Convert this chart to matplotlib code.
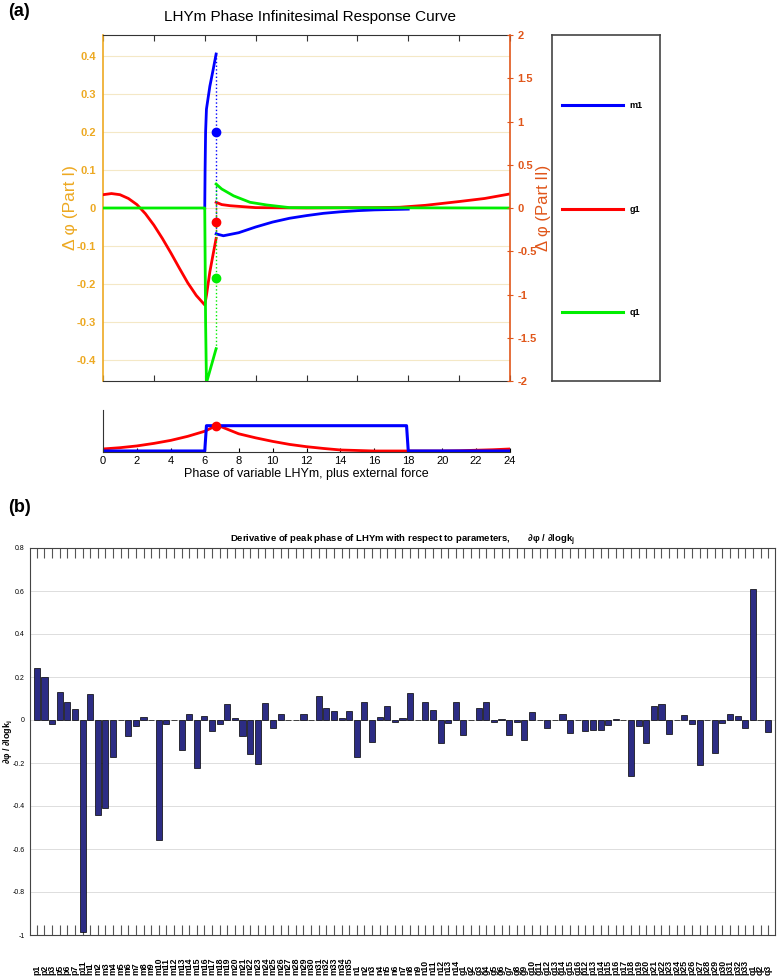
import matplotlib
matplotlib.use("Agg")
import matplotlib.pyplot as plt
import matplotlib.transforms as mtransforms
import numpy as np

plt.rcParams['font.family'] = ['Liberation Sans', 'DejaVu Sans']

W, H = 779, 977
fig = plt.figure(figsize=(W / 100, H / 100), dpi=100)

def rect(l, t, r, b):
    return [l / W, 1 - b / H, (r - l) / W, (b - t) / H]

LEFT_C = '#EDA922'
RIGHT_C = '#E0561A'
BLUE = '#0000FF'
RED = '#FF0000'
GREEN = '#00EE00'

# ---------------- data: PRC (panel a) ----------------
jump_t = 6.67
blue_pre_t = [6.0, 6.02, 6.05, 6.1, 6.3, 6.5, 6.67]
blue_pre_v = [0.0, 0.1, 0.2, 0.26, 0.32, 0.365, 0.405]
blue_post_t = [6.67, 7.1, 8.0, 9.0, 10.0, 11.0, 12.0, 13.0, 14.0, 15.0, 16.0, 17.0, 18.0]
blue_post_v = [-0.068, -0.073, -0.065, -0.05, -0.037, -0.027, -0.02, -0.014, -0.01, -0.007, -0.005, -0.004, -0.003]

red_pre_t = [0, 0.5, 1.0, 1.5, 2.0, 2.5, 3.0, 3.5, 4.0, 4.5, 5.0, 5.5, 6.0, 6.1, 6.3, 6.5, 6.67]
red_pre_v = [0.035, 0.038, 0.035, 0.025, 0.009, -0.015, -0.045, -0.08, -0.118, -0.158, -0.197, -0.23, -0.255,
             -0.23, -0.168, -0.12, -0.08]
red_post_t = [6.67, 7.0, 7.5, 8.1, 9.0, 12.0, 16.0, 17.5, 19.0, 21.0, 22.5, 24.0]
red_post_v = [0.015, 0.009, 0.006, 0.004, 0.001, 0.0, 0.001, 0.002, 0.007, 0.017, 0.025, 0.037]

green_pre_t = [0, 6.0, 6.05, 6.1, 6.67]
green_pre_v = [0.0, 0.0, -0.3, -0.46, -0.37]
green_post_t = [6.67, 7.0, 7.7, 8.67, 9.65, 11.0, 24.0]
green_post_v = [0.063, 0.05, 0.032, 0.015, 0.008, 0.001, 0.0]

dot_vals = {'blue': 0.2, 'red': -0.037, 'green': -0.183}

# ---------------- data: forcing (small panel) ----------------
force_t = [0, 6.0, 6.1, 17.9, 18.0, 24]
force_v = [0, 0, 1, 1, 0, 0]
lhy_t = [0, 1, 2, 3, 4, 5, 6, 6.67, 7, 8, 9, 10, 11, 12, 13, 14, 15, 16, 18, 20, 21, 22, 23, 24]
lhy_v = [0.08, 0.13, 0.2, 0.3, 0.42, 0.58, 0.78, 1.0, 0.95, 0.68, 0.52, 0.38, 0.26, 0.17, 0.1, 0.04, 0.02,
         0.0, 0.0, 0.0, 0.01, 0.03, 0.05, 0.08]
lhy_peak = (6.67, 1.0)

# ---------------- data: sensitivities (panel b) ----------------
param_labels = ['p1', 'p2', 'p3', 'p5', 'p6', 'p7', 'p11',
                'm1', 'm2', 'm3', 'm4', 'm5', 'm6', 'm7', 'm8', 'm9', 'm10', 'm11', 'm12', 'm13', 'm14',
                'm15', 'm16', 'm17', 'm18', 'm19', 'm20', 'm21', 'm22', 'm23', 'm24', 'm25', 'm26', 'm27',
                'm28', 'm29', 'm30', 'm31', 'm32', 'm33', 'm34', 'm35',
                'n1', 'n2', 'n3', 'n4', 'n5', 'n6', 'n7', 'n8', 'n9', 'n10', 'n11', 'n12', 'n13', 'n14',
                'g1', 'g2', 'g3', 'g4', 'g5', 'g6', 'g7', 'g8', 'g9', 'g10', 'g11', 'g12', 'g13', 'g14',
                'g15', 'g16',
                'p12', 'p13', 'p14', 'p15', 'p16', 'p17', 'p18', 'p19', 'p20', 'p21', 'p22', 'p23', 'p24',
                'p25', 'p26', 'p27', 'p28', 'p29', 'p30', 'p31', 'p32', 'p33',
                'q1', 'q2', 'q3']
sens = [0.24, 0.20, -0.02, 0.13, 0.085, 0.05, -0.985, 0.12, -0.44, -0.41,
        -0.17, 0.0, -0.075, -0.03, 0.015, 0.0, -0.56, -0.02, 0.0, -0.14,
        0.03, -0.225, 0.02, -0.05, -0.02, 0.075, 0.01, -0.075, -0.16, -0.205,
        0.08, -0.035, 0.03, 0.0, 0.0, 0.03, 0.0, 0.11, 0.055, 0.04,
        0.01, 0.04, -0.17, 0.085, -0.1, 0.015, 0.065, -0.01, 0.01, 0.125,
        0.0, 0.085, 0.045, -0.105, -0.015, 0.085, -0.07, 0.0, 0.055, 0.085,
        -0.01, 0.005, -0.07, -0.01, -0.095, 0.035, 0.0, -0.035, 0.0, 0.03,
        -0.06, 0.0, -0.05, -0.045, -0.045, -0.025, 0.005, 0.0, -0.26, -0.03,
        -0.105, 0.065, 0.075, -0.065, 0.0, 0.025, -0.02, -0.21, 0.0, -0.155,
        -0.015, 0.03, 0.02, -0.035, 0.61, 0.0, -0.055]

# ================= panel (a) main axes =================
ax = fig.add_axes(rect(103, 35, 510, 381))
ax.set_xlim(0, 24)
ax.set_ylim(-0.455, 0.455)
ax.set_yticks([-0.4, -0.3, -0.2, -0.1, 0, 0.1, 0.2, 0.3, 0.4])
ax.set_yticklabels(['-0.4', '-0.3', '-0.2', '-0.1', '0', '0.1', '0.2', '0.3', '0.4'])
ax.set_xticks(np.arange(0, 25, 3))
ax.set_xticklabels([])
ax.tick_params(axis='x', direction='in', top=True, length=4, color='#333333')
ax.tick_params(axis='y', colors=LEFT_C, labelsize=8, length=0, pad=5)
for lab in ax.get_yticklabels():
    lab.set_fontweight('bold')
ax.grid(axis='y', color='#f4e8c6', linewidth=0.8)
ax.spines['left'].set_color(LEFT_C)
ax.spines['left'].set_linewidth(1.2)
ax.spines['right'].set_visible(False)
ax.spines['top'].set_color('#333333')
ax.spines['bottom'].set_color('#333333')
ax.set_ylabel('Δ φ (Part I)', color=LEFT_C, fontsize=12.5)
ax.yaxis.set_label_coords(-0.061, 0.5)

lw = 2.0
ax.plot(red_pre_t, red_pre_v, color=RED, lw=lw, zorder=3)
ax.plot(red_post_t, red_post_v, color=RED, lw=lw, zorder=3)
ax.plot(blue_pre_t, blue_pre_v, color=BLUE, lw=lw, zorder=4)
ax.plot(blue_post_t, blue_post_v, color=BLUE, lw=lw, zorder=4)
ax.plot(green_pre_t, green_pre_v, color=GREEN, lw=lw, zorder=5)
ax.plot(green_post_t, green_post_v, color=GREEN, lw=lw, zorder=5)
ax.plot([jump_t, jump_t], [blue_pre_v[-1], blue_post_v[0]], color=BLUE, lw=1, ls=':', zorder=4)
ax.plot([jump_t, jump_t], [red_pre_v[-1], red_post_v[0]], color=RED, lw=1, ls=':', zorder=3)
ax.plot([jump_t, jump_t], [green_pre_v[-1], green_post_v[0]], color=GREEN, lw=1, ls=':', zorder=5)
ax.plot([jump_t], [dot_vals['blue']], 'o', color=BLUE, ms=6, zorder=6)
ax.plot([jump_t], [dot_vals['red']], 'o', color=RED, ms=6, zorder=6)
ax.plot([jump_t], [dot_vals['green']], 'o', color=GREEN, ms=6, zorder=6)

ax2 = ax.twinx()
ax2.set_ylim(-2, 2)
ax2.set_yticks([-2, -1.5, -1, -0.5, 0, 0.5, 1, 1.5, 2])
ax2.set_yticklabels(['-2', '-1.5', '-1', '-0.5', '0', '0.5', '1', '1.5', '2'])
ax2.tick_params(axis='y', colors=RIGHT_C, labelsize=8, direction='inout', length=5, pad=3)
for lab in ax2.get_yticklabels():
    lab.set_fontweight('bold')
for s in ['left', 'top', 'bottom']:
    ax2.spines[s].set_visible(False)
ax2.spines['right'].set_color(RIGHT_C)
ax2.spines['right'].set_linewidth(1.2)
ax2.set_ylabel('Δ φ (Part II)', color=RIGHT_C, fontsize=12)
ax2.yaxis.set_label_coords(1.064, 0.5)

fig.text(310 / W, 1 - 17 / H, 'LHYm Phase Infinitesimal Response Curve', ha='center', va='center', fontsize=11)
fig.text(8 / W, 1 - 12 / H, '(a)', ha='left', va='center', fontsize=13, fontweight='bold')

# legend axes
lax = fig.add_axes(rect(552, 35, 660, 381))
lax.set_xlim(0, 1)
lax.set_ylim(0, 1)
lax.set_xticks([])
lax.set_yticks([])
for s in lax.spines.values():
    s.set_color('#444444')
    s.set_linewidth(1.2)
for name, col, yy in [('m1', BLUE, 0.797), ('g1', RED, 0.497), ('q1', GREEN, 0.199)]:
    lax.plot([0.09, 0.66], [yy, yy], color=col, lw=2.2)
    lax.text(0.72, yy, name, fontsize=6.5, fontweight='bold', va='center', ha='left')

# ================= small forcing axes =================
fx = fig.add_axes(rect(103, 410, 510, 452))
fx.set_xlim(0, 24)
fx.set_ylim(-0.04, 1.62)
fx.set_xticks(np.arange(0, 25, 2))
fx.set_yticks([])
fx.tick_params(axis='x', direction='in', length=3, labelsize=8, pad=3)
fx.spines['top'].set_visible(False)
fx.spines['right'].set_visible(False)
fx.spines['left'].set_color('#333333')
fx.spines['bottom'].set_color('#333333')
fx.plot(lhy_t, lhy_v, color=RED, lw=2)
fx.plot(force_t, force_v, color=BLUE, lw=2.2)
fx.plot([lhy_peak[0]], [lhy_peak[1]], 'o', color=RED, ms=6)
fx.set_xlabel('Phase of variable LHYm, plus external force', fontsize=9, labelpad=1)

# ================= panel (b) =================
fig.text(8 / W, 1 - 507 / H, '(b)', ha='left', va='center', fontsize=13, fontweight='bold')
bx = fig.add_axes(rect(30, 548, 775, 935))
xpos = np.arange(len(sens))
bx.bar(xpos, sens, width=0.8, color='#2C2C84', edgecolor='#000000', linewidth=0.5, zorder=3)
bx.set_xlim(-0.9, len(sens) - 0.1)
bx.set_ylim(-1, 0.8)
bx.set_yticks([-1, -0.8, -0.6, -0.4, -0.2, 0, 0.2, 0.4, 0.6, 0.8])
bx.set_yticklabels(['-1', '-0.8', '-0.6', '-0.4', '-0.2', '0', '0.2', '0.4', '0.6', '0.8'])
bx.set_xticks(xpos)
bx.set_xticklabels([])
bx.tick_params(axis='x', direction='in', top=True, length=7, width=0.8, color='#555555')
bx.tick_params(axis='y', direction='in', length=0, labelsize=5, pad=4)
bx.grid(axis='y', color='#dddddd', linewidth=0.7, zorder=0)
for s in bx.spines.values():
    s.set_color('#444444')
trans = mtransforms.blended_transform_factory(bx.transData, fig.transFigure)
for xi, lab in zip(xpos, param_labels):
    bx.text(xi, 2.0 / H, lab, rotation=90, ha='center', va='bottom', fontsize=6.3,
            fontweight='bold', transform=trans, clip_on=False)
bx.set_ylabel(r'∂φ / ∂logk$_\mathregular{j}$', fontsize=6.5, fontweight='bold')
bx.yaxis.set_label_coords(-0.0205, 0.5)
bx.set_title(r'Derivative of peak phase of LHYm with respect to parameters,       ∂φ / ∂logk$_\mathregular{j}$',
             fontsize=6.8, fontweight='bold', pad=4)

fig.savefig('out.png', dpi=100)
